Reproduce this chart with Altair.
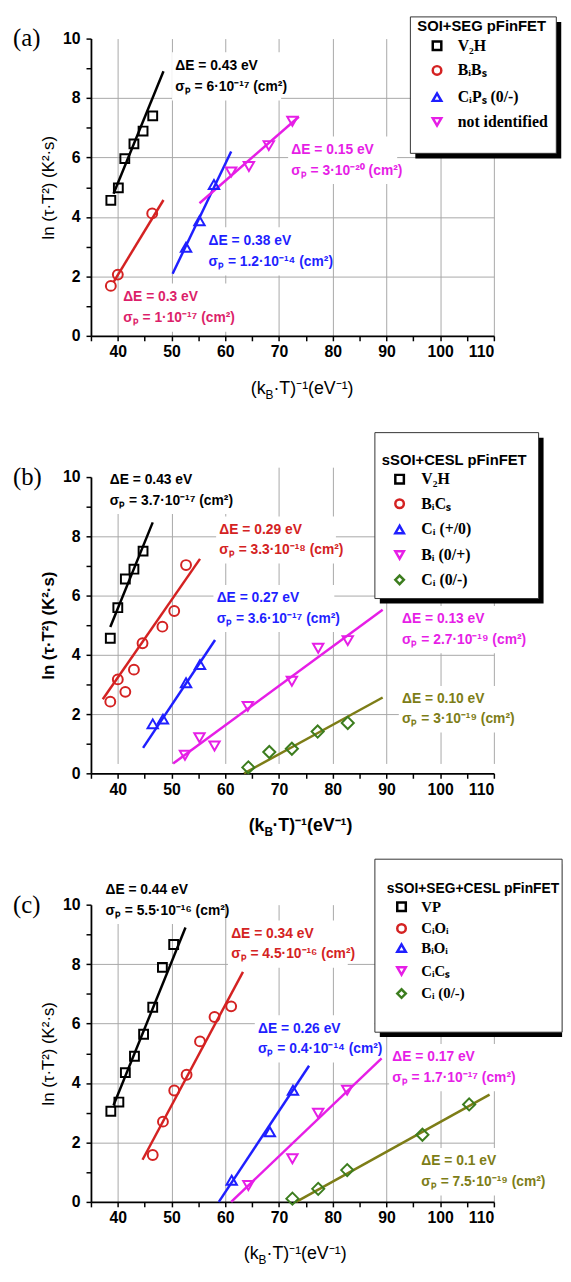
import altair as alt
import pandas as pd

# ---------------- colours ----------------
BLACK = "#000000"
RED = "#d42222"
CRIMSON = "#dc1f6a"
BLUE = "#1f1fff"
MAGENTA = "#e61ee6"
GREEN = "#3c7d1e"
OLIVE = "#7d7d17"

SANS = "Liberation Sans"
SERIF = "Liberation Serif"

# ================= panel (a) : SOI+SEG pFinFET =================
A_TITLE = "SOI+SEG pFinFET"
A_NAMES = ["V₂H", "BᵢBₛ", "CᵢPₛ (0/-)", "not identified"]
A_SHAPES = ["square", "circle", "triangle-up", "triangle-down"]
A_COLORS = [BLACK, RED, BLUE, MAGENTA]
A_V2H_X = [38.7, 40.1, 41.3, 43.0, 44.7, 46.5]
A_V2H_Y = [4.56, 4.98, 5.96, 6.46, 6.89, 7.40]
A_BIBS_X = [38.7, 40.0, 46.4]
A_BIBS_Y = [1.68, 2.06, 4.12]
A_CIPS_X = [52.7, 55.2, 57.9]
A_CIPS_Y = [2.98, 3.87, 5.09]
A_NID_X = [61.1, 64.4, 68.1, 72.5]
A_NID_Y = [5.51, 5.70, 6.40, 7.22]
A_FIT_X1 = [39.2, 39.2, 50.2, 55.2]
A_FIT_X2 = [48.5, 48.5, 61.1, 73.7]
A_FIT_Y1 = [4.78, 1.81, 2.09, 4.46]
A_FIT_Y2 = [8.90, 4.57, 6.20, 7.37]
A_DE = ["ΔE = 0.43 eV", "ΔE = 0.3 eV", "ΔE = 0.38 eV", "ΔE = 0.15 eV"]
A_SIG = ["σₚ = 6·10⁻¹⁷ (cm²)", "σₚ = 1·10⁻¹⁷ (cm²)", "σₚ = 1.2·10⁻¹⁴ (cm²)", "σₚ = 3·10⁻²⁰ (cm²)"]
A_NOTE_C = [BLACK, CRIMSON, BLUE, MAGENTA]

# ================= panel (b) : sSOI+CESL pFinFET =================
B_TITLE = "sSOI+CESL pFinFET"
B_NAMES = ["V₂H", "BᵢCₛ", "Cᵢ (+/0)", "Bᵢ (0/+)", "Cᵢ (0/-)"]
B_SHAPES = ["square", "circle", "triangle-up", "triangle-down", "diamond"]
B_COLORS = [BLACK, RED, BLUE, MAGENTA, GREEN]
B_V2H_X = [38.6, 40.0, 41.4, 43.0, 44.7]
B_V2H_Y = [4.56, 5.59, 6.56, 6.89, 7.50]
B_BICS_X = [38.6, 40.0, 41.4, 43.0, 44.6, 48.3, 50.5, 52.7]
B_BICS_Y = [2.42, 3.17, 2.75, 3.50, 4.39, 4.95, 5.48, 7.03]
B_CIP_X = [46.5, 48.4, 52.7, 55.3]
B_CIP_Y = [1.67, 1.83, 3.06, 3.67]
B_BI_X = [52.5, 55.2, 58.0, 64.2, 72.4, 77.3, 82.8]
B_BI_Y = [0.61, 1.20, 0.92, 2.26, 3.11, 4.22, 4.48]
B_CIM_X = [64.3, 68.2, 72.4, 77.2, 82.8]
B_CIM_Y = [0.20, 0.72, 0.83, 1.41, 1.70]
B_FIT_X1 = [38.6, 37.2, 44.7, 50.3, 63.5]
B_FIT_X2 = [46.5, 55.3, 58.1, 89.3, 89.3]
B_FIT_Y1 = [4.94, 2.50, 0.86, 0.33, 0.00]
B_FIT_Y2 = [8.47, 7.24, 4.50, 5.52, 2.56]
B_FIT_C = [BLACK, RED, BLUE, MAGENTA, OLIVE]
B_DE = ["ΔE = 0.43 eV", "ΔE = 0.29 eV", "ΔE = 0.27 eV", "ΔE = 0.13 eV", "ΔE = 0.10 eV"]
B_SIG = ["σₚ = 3.7·10⁻¹⁷ (cm²)", "σₚ = 3.3·10⁻¹⁸ (cm²)", "σₚ = 3.6·10⁻¹⁷ (cm²)",
         "σₚ = 2.7·10⁻¹⁹ (cm²)", "σₚ = 3·10⁻¹⁹ (cm²)"]
B_NOTE_C = [BLACK, RED, BLUE, MAGENTA, OLIVE]

# ================= panel (c) : sSOI+SEG+CESL pFinFET =================
C_TITLE = "sSOI+SEG+CESL pFinFET"
C_NAMES = ["VP", "CᵢOᵢ", "BᵢOᵢ", "CᵢCₛ", "Cᵢ (0/-)"]
C_SHAPES = ["square", "circle", "triangle-up", "triangle-down", "diamond"]
C_COLORS = [BLACK, RED, BLUE, MAGENTA, GREEN]
C_VP_X = [38.7, 40.2, 41.4, 43.1, 44.8, 46.5, 48.3, 50.4]
C_VP_Y = [3.05, 3.36, 4.35, 4.90, 5.64, 6.55, 7.89, 8.66]
C_CIOI_X = [46.5, 48.4, 50.5, 52.8, 55.3, 58.0, 61.1]
C_CIOI_Y = [1.58, 2.70, 3.75, 4.28, 5.40, 6.22, 6.58]
C_BIOI_X = [61.2, 68.3, 72.6]
C_BIOI_Y = [0.73, 2.36, 3.76]
C_CICS_X = [64.3, 72.5, 77.3, 82.7]
C_CICS_Y = [0.55, 1.45, 2.98, 3.76]
C_CIM_X = [72.5, 77.3, 82.7, 96.7, 105.4]
C_CIM_Y = [0.11, 0.44, 1.07, 2.26, 3.28]
C_FIT_X1 = [39.2, 44.6, 58.8, 61.1, 73.2]
C_FIT_X2 = [52.6, 63.3, 75.6, 89.1, 109.2]
C_FIT_Y1 = [3.25, 1.42, 0.00, 0.00, 0.00]
C_FIT_Y2 = [9.23, 7.74, 4.58, 4.83, 3.61]
C_FIT_C = [BLACK, RED, BLUE, MAGENTA, OLIVE]
C_DE = ["ΔE = 0.44 eV", "ΔE = 0.34 eV", "ΔE = 0.26 eV", "ΔE = 0.17 eV", "ΔE = 0.1 eV"]
C_SIG = ["σₚ = 5.5·10⁻¹⁶ (cm²)", "σₚ = 4.5·10⁻¹⁶ (cm²)", "σₚ = 0.4·10⁻¹⁴ (cm²)",
         "σₚ = 1.7·10⁻¹⁷ (cm²)", "σₚ = 7.5·10⁻¹⁹ (cm²)"]
C_NOTE_C = [BLACK, RED, BLUE, MAGENTA, OLIVE]

# ---------------- annotation layout (data units) ----------------
A_NOTE_LAYOUT = dict(x=[50.7, 41.0, 56.9, 72.3], y=[9.09, 1.31, 3.20, 6.26],
                     y2=[8.37, 0.59, 2.48, 5.56], xend=[69.8, 60.1, 78.6, 91.4])
B_NOTE_LAYOUT = dict(x=[38.5, 58.9, 58.4, 92.9, 92.9], y=[9.89, 8.22, 5.91, 5.20, 2.50],
                     y2=[9.20, 7.53, 5.22, 4.50, 1.83], xend=[59.8, 80.0, 79.7, 114.2, 111.8])
C_NOTE_LAYOUT = dict(x=[37.7, 61.1, 66.1, 91.1, 96.5], y=[10.5, 9.02, 5.83, 4.86, 1.36],
                     y2=[9.80, 8.33, 5.14, 4.17, 0.67], xend=[58.8, 82.2, 87.2, 112.2, 117.6])

A_LEG = dict(box=(94.46, 121.62, 6.14, 10.73), shadow=(95.38, 122.54, 5.97, 10.56),
             title=(95.75, 10.42), sym_x=99.42, lab_x=103.27, ys=[9.76, 8.93, 8.03, 7.20],
             title_size=15, lab_size=16)
B_LEG = dict(box=(87.85, 118.33, 5.90, 11.50), shadow=(88.77, 119.25, 5.73, 11.33),
             title=(89.14, 10.57), sym_x=92.45, lab_x=96.49, ys=[9.93, 9.10, 8.23, 7.37, 6.53],
             title_size=15, lab_size=16)
C_LEG = dict(box=(87.85, 122.7, 5.71, 11.53), shadow=(88.77, 122.7, 5.55, 11.36),
             title=(90.06, 10.53), sym_x=92.81, lab_x=96.49, ys=[9.93, 9.20, 8.54, 7.77, 7.01],
             title_size=14, lab_size=15)

SIZES = {"square": 80, "circle": 100, "triangle-up": 110, "triangle-down": 110, "diamond": 150}

XS = alt.Scale(domain=[35, 110], nice=False, zero=False)


def x_axis():
    return alt.Axis(
        values=list(range(35, 111, 5)),
        labelExpr="datum.value % 10 == 0 ? datum.label : ''",
        grid=True, gridColor="#a8a8a8", gridWidth=1,
        gridOpacity={"condition": {"test": "datum.value % 10 == 0", "value": 1}, "value": 0},
        tickSize=5, tickColor="black", tickWidth=1.5,
        domainColor="black", domainWidth=1.8,
        labelFont=SANS, labelFontSize=16, labelFontWeight="bold", labelColor="black",
        labelPadding=3, title=None)


def y_axis(bold):
    return alt.Axis(
        values=list(range(0, 11)),
        labelExpr="datum.value % 2 == 0 ? datum.label : ''",
        grid=True, gridColor="#a8a8a8", gridWidth=1,
        gridOpacity={"condition": {"test": "datum.value % 2 == 0 && datum.value > 0 && datum.value < 10",
                                   "value": 1}, "value": 0},
        tickSize=5, tickColor="black", tickWidth=1.5,
        domainColor="black", domainWidth=1.8,
        labelFont=SANS, labelFontSize=16, labelFontWeight="bold", labelColor="black",
        labelPadding=6,
        title="ln (τ·T²) (K²·s)", titleFont=SANS, titleFontSize=17,
        titleFontWeight="bold" if bold else "normal", titleColor="black", titlePadding=5)


def panel(letter, series_x, series_y, shapes, colors, names, title,
          fx1, fx2, fy1, fy2, fc, de, sig, nc, lay, leg, bold, xt_anchor, xt_y, height, top_gap):
    X = alt.X("x:Q", scale=XS, axis=x_axis())
    YS = alt.Scale(domain=[0, 10], nice=False, zero=False, range=[height, top_gap])
    Y = alt.Y("y:Q", scale=YS, axis=y_axis(bold))

    pts = []
    for xs, ys, s, c in zip(series_x, series_y, shapes, colors):
        for xv, yv in zip(xs, ys):
            pts.append({"x": xv, "y": yv, "s": s, "c": c, "z": SIZES[s]})
    pts = pd.DataFrame(pts)

    fits = pd.DataFrame({"x": fx1, "x2": fx2, "y": fy1, "y2": fy2, "c": fc})

    bg = pd.DataFrame({"x": [v - 0.6 for v in lay["x"]], "x2": [v + 0.6 for v in lay["xend"]],
                       "y": [v - 0.45 for v in lay["y2"]], "y2": [v + 0.45 for v in lay["y"]]})
    notes = pd.DataFrame({"x": lay["x"] * 2, "y": lay["y"] + lay["y2"], "t": de + sig, "c": nc + nc})

    bx1, bx2, by1, by2 = leg["box"]
    sx1, sx2, sy1, sy2 = leg["shadow"]
    box = pd.DataFrame({"x": [bx1], "x2": [bx2], "y": [by1], "y2": [by2]})
    shadow = pd.DataFrame({"x": [sx1], "x2": [sx2], "y": [sy1], "y2": [sy2]})
    leg_sym = pd.DataFrame({"x": [leg["sym_x"]] * len(names), "y": leg["ys"], "s": shapes, "c": colors})
    leg_lab = pd.DataFrame({"x": [leg["lab_x"]] * len(names), "y": leg["ys"], "t": names})
    leg_title = pd.DataFrame({"x": [leg["title"][0]], "y": [leg["title"][1]], "t": [title]})

    lab = pd.DataFrame({"x": [20.5], "y": [10.0], "t": [letter]})
    xt = pd.DataFrame({"x": [xt_anchor], "y": [xt_y]})
    weight = "bold" if bold else "normal"

    layers = [
        alt.Chart(bg).mark_rect(color="white").encode(x=X, x2=alt.X2("x2"), y=Y, y2=alt.Y2("y2")),
        alt.Chart(shadow).mark_rect(color="black").encode(x=X, x2=alt.X2("x2"), y=Y, y2=alt.Y2("y2")),
        alt.Chart(box).mark_rect(fill="white", stroke="#333333", strokeWidth=1).encode(
            x=X, x2=alt.X2("x2"), y=Y, y2=alt.Y2("y2")),
        alt.Chart(fits).mark_rule(strokeWidth=2.5).encode(
            x=X, x2=alt.X2("x2"), y=Y, y2=alt.Y2("y2"), color=alt.Color("c:N", scale=None)),
        alt.Chart(pts).mark_point(filled=False, strokeWidth=2, opacity=1).encode(
            x=X, y=Y, shape=alt.Shape("s:N", scale=None), color=alt.Color("c:N", scale=None),
            size=alt.Size("z:Q", scale=None)),
        alt.Chart(leg_sym).mark_point(filled=False, strokeWidth=2.5, size=75, opacity=1).encode(
            x=X, y=Y, shape=alt.Shape("s:N", scale=None), color=alt.Color("c:N", scale=None)),
        alt.Chart(leg_lab).mark_text(align="left", baseline="middle", font=SERIF,
                                     fontSize=leg["lab_size"], fontWeight="bold", color="black").encode(
            x=X, y=Y, text="t:N"),
        alt.Chart(leg_title).mark_text(align="left", baseline="middle", font=SANS,
                                       fontSize=leg["title_size"], fontWeight="bold", color="black").encode(
            x=X, y=Y, text="t:N"),
        alt.Chart(notes).mark_text(align="left", baseline="middle", font=SANS, fontSize=14,
                                   fontWeight="bold").encode(
            x=X, y=Y, text="t:N", color=alt.Color("c:N", scale=None)),
        alt.Chart(lab).mark_text(align="left", baseline="middle", font=SERIF, fontSize=25,
                                 color="black").encode(x=X, y=Y, text="t:N"),
        alt.Chart(xt).mark_text(align="right", baseline="middle", font=SANS, fontSize=18,
                                fontWeight=weight, color="black", text="(k").encode(x=X, y=Y),
        alt.Chart(xt).mark_text(align="left", baseline="middle", font=SANS, fontSize=12,
                                fontWeight=weight, color="black", text="B", dy=6).encode(x=X, y=Y),
        alt.Chart(xt).mark_text(align="left", baseline="middle", font=SANS, fontSize=18,
                                fontWeight=weight, color="black", text="·T)⁻¹(eV⁻¹)", dx=8).encode(x=X, y=Y),
    ]
    return alt.layer(*layers).properties(width=408, height=height)


pa = panel("(a)", [A_V2H_X, A_BIBS_X, A_CIPS_X, A_NID_X], [A_V2H_Y, A_BIBS_Y, A_CIPS_Y, A_NID_Y],
           A_SHAPES, A_COLORS, A_NAMES, A_TITLE,
           A_FIT_X1, A_FIT_X2, A_FIT_Y1, A_FIT_Y2, [BLACK, RED, BLUE, MAGENTA],
           A_DE, A_SIG, A_NOTE_C, A_NOTE_LAYOUT, A_LEG, False, 67.5, -1.8, 301, 0)

pb = panel("(b)", [B_V2H_X, B_BICS_X, B_CIP_X, B_BI_X, B_CIM_X], [B_V2H_Y, B_BICS_Y, B_CIP_Y, B_BI_Y, B_CIM_Y],
           B_SHAPES, B_COLORS, B_NAMES, B_TITLE,
           B_FIT_X1, B_FIT_X2, B_FIT_Y1, B_FIT_Y2, B_FIT_C,
           B_DE, B_SIG, B_NOTE_C, B_NOTE_LAYOUT, B_LEG, True, 67.3, -1.77, 310, 10)

pc = panel("(c)", [C_VP_X, C_CIOI_X, C_BIOI_X, C_CICS_X, C_CIM_X], [C_VP_Y, C_CIOI_Y, C_BIOI_Y, C_CICS_Y, C_CIM_Y],
           C_SHAPES, C_COLORS, C_NAMES, C_TITLE,
           C_FIT_X1, C_FIT_X2, C_FIT_Y1, C_FIT_Y2, C_FIT_C,
           C_DE, C_SIG, C_NOTE_C, C_NOTE_LAYOUT, C_LEG, False, 66.2, -1.74, 301, 0)

chart = alt.vconcat(pa, pb, pc, spacing=133, bounds="flush").properties(
    padding={"left": 5, "top": 0, "right": 0, "bottom": 0}
).configure_view(stroke=None)

chart.save("out.html", embed_options={"renderer": "svg", "actions": False})
